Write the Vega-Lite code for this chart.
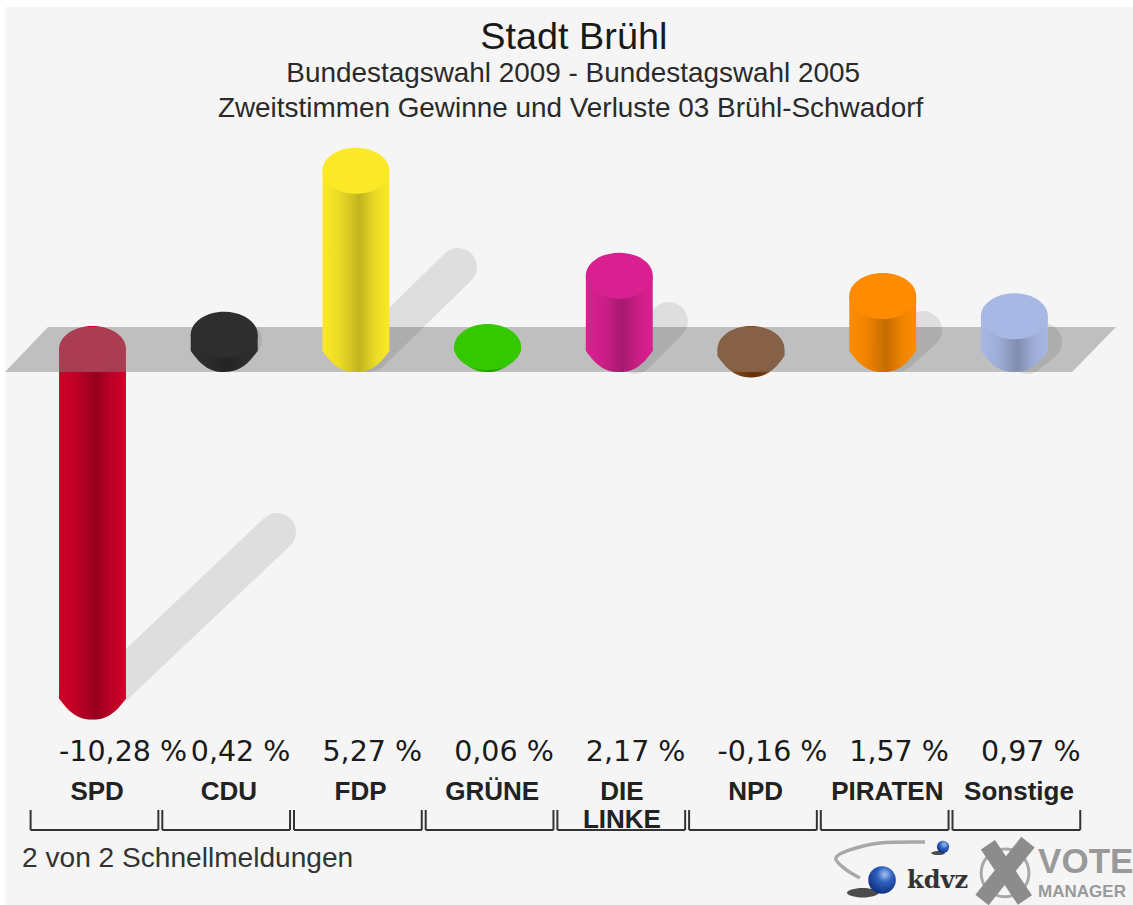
{
"$schema":"https://vega.github.io/schema/vega-lite/v6.json",
"width":1133,"height":905,"padding":0,
"autosize":"none",
"background":"#ffffff",
"config":{"view":{"stroke":null}},
"datasets":{
"panel":[{"x":0.3356,"x2":8.9005,"y":10.118,"y2":-16.45}],
"floor":[{"x":0.3356,"y":-0.6805,"y2":-0.6805},{"x":0.6621,"y":0.6509,"y2":-0.6805},{"x":8.4374,"y":0.6509,"y2":-0.6805},{"x":8.7715,"y":0.6509,"y2":0.6509}],
"shadowsNeg":[{"party":"SPD","x":1.1329,"y":-10.089,"x2":2.4009,"y2":-5.414}],
"shadowsPos":[
{"party":"CDU","x":2.058,"y":-0.059,"x2":2.141,"y2":0.266},
{"party":"FDP","x":3.107,"y":-0.118,"x2":3.775,"y2":2.426},
{"party":"DIE LINKE","x":5.12,"y":-0.178,"x2":5.377,"y2":0.828},
{"party":"PIRATEN","x":7.109,"y":-0.118,"x2":7.306,"y2":0.562},
{"party":"Sonstige","x":8.096,"y":-0.178,"x2":8.217,"y2":0.207}],
"bars":[
{"party":"SPD","name":["SPD"],"k":1,"value":-10.28,"hi":0,"lo":-10.28,"barL":0.746,"barR":1.254,"label":"-10,28 %","cx":1.035,"bl":0.53,"br":1.5,"ly":-12.19,"ny":-13.34,"yb":-14.23,"yt":-13.64},
{"party":"CDU","name":["CDU"],"k":2,"value":0.42,"hi":0.42,"lo":0,"barL":1.746,"barR":2.254,"label":"0,42 %","cx":2.035,"bl":1.53,"br":2.5,"ly":-12.19,"ny":-13.34,"yb":-14.23,"yt":-13.64},
{"party":"FDP","name":["FDP"],"k":3,"value":5.27,"hi":5.27,"lo":0,"barL":2.746,"barR":3.254,"label":"5,27 %","cx":3.035,"bl":2.53,"br":3.5,"ly":-12.19,"ny":-13.34,"yb":-14.23,"yt":-13.64},
{"party":"GRÜNE","name":["GRÜNE"],"k":4,"value":0.06,"hi":0.06,"lo":0,"barL":3.746,"barR":4.254,"label":"0,06 %","cx":4.035,"bl":3.53,"br":4.5,"ly":-12.19,"ny":-13.34,"yb":-14.23,"yt":-13.64},
{"party":"DIE LINKE","name":["DIE","LINKE"],"k":5,"value":2.17,"hi":2.17,"lo":0,"barL":4.746,"barR":5.254,"label":"2,17 %","cx":5.02,"bl":4.53,"br":5.5,"ly":-12.19,"ny":-13.34,"yb":-14.23,"yt":-13.64},
{"party":"NPD","name":["NPD"],"k":6,"value":-0.16,"hi":0,"lo":-0.16,"barL":5.746,"barR":6.254,"label":"-0,16 %","cx":6.035,"bl":5.53,"br":6.5,"ly":-12.19,"ny":-13.34,"yb":-14.23,"yt":-13.64},
{"party":"PIRATEN","name":["PIRATEN"],"k":7,"value":1.57,"hi":1.57,"lo":0,"barL":6.746,"barR":7.254,"label":"1,57 %","cx":7.035,"bl":6.53,"br":7.5,"ly":-12.19,"ny":-13.34,"yb":-14.23,"yt":-13.64},
{"party":"Sonstige","name":["Sonstige"],"k":8,"value":0.97,"hi":0.97,"lo":0,"barL":7.746,"barR":8.254,"label":"0,97 %","cx":8.035,"bl":7.53,"br":8.5,"ly":-12.19,"ny":-13.34,"yb":-14.23,"yt":-13.64}]
},
"layer":[
{"data":{"name":"panel"},"mark":{"type":"rect","fill":"#f5f5f5"},"encoding":{
"x":{"field":"x","type":"quantitative","scale":{"domain":[0.29764,8.90054],"nice":false,"zero":false},"axis":null},"x2":{"field":"x2"},
"y":{"field":"y","type":"quantitative","scale":{"domain":[-16.45,10.325],"nice":false,"zero":false},"axis":null},"y2":{"field":"y2"}}},
{"data":{"name":"shadowsNeg"},"mark":{"type":"rule","strokeWidth":38,"strokeCap":"round","color":"#000000","opacity":0.09},"encoding":{
"x":{"field":"x","type":"quantitative","scale":{"domain":[0.29764,8.90054],"nice":false,"zero":false},"axis":null},"x2":{"field":"x2"},
"y":{"field":"y","type":"quantitative","scale":{"domain":[-16.45,10.325],"nice":false,"zero":false},"axis":null},"y2":{"field":"y2"}}},
{"data":{"name":"bars"},"transform":[{"filter":"datum.value < 0"}],"mark":{"type":"rect"},"encoding":{
"x":{"field":"barL","type":"quantitative","scale":{"domain":[0.29764,8.90054],"nice":false,"zero":false},"axis":null},"x2":{"field":"barR"},
"y":{"field":"hi","type":"quantitative","scale":{"domain":[-16.45,10.325],"nice":false,"zero":false},"axis":null},"y2":{"field":"lo"},
"color":{"field":"party","type":"nominal","legend":null,"scale":{"domain":["SPD","CDU","FDP","GRÜNE","DIE LINKE","NPD","PIRATEN","Sonstige"],"range":["#ce0028","#2e2e2e","#fbe928","#34c800","#d92090","#8b4513","#ff8c00","#a8b8e4"]}}}},
{"data":{"name":"bars"},"transform":[{"filter":"datum.value < 0"}],"mark":{"type":"point","filled":true,"opacity":1,"size":4489,"shape":"M-1,-0.03 L1,-0.03 L1,0.05 C0.75,0.4 0.5,0.687 0,0.687 C-0.5,0.687 -0.75,0.4 -1,0.05 Z"},"encoding":{
"x":{"field":"k","type":"quantitative","scale":{"domain":[0.29764,8.90054],"nice":false,"zero":false},"axis":null},
"y":{"field":"lo","type":"quantitative","scale":{"domain":[-16.45,10.325],"nice":false,"zero":false},"axis":null},
"color":{"field":"party","type":"nominal","legend":null,"scale":{"domain":["SPD","CDU","FDP","GRÜNE","DIE LINKE","NPD","PIRATEN","Sonstige"],"range":["#ce0028","#2e2e2e","#fbe928","#34c800","#d92090","#8b4513","#ff8c00","#a8b8e4"]}}}},
{"data":{"name":"bars"},"transform":[{"filter":"datum.value < 0"}],"mark":{"type":"rect","fill":{"gradient":"linear","x1":0,"y1":0,"x2":1,"y2":0,"stops":[{"offset":0,"color":"rgba(0,0,0,0)"},{"offset":0.25,"color":"rgba(0,0,0,0.07)"},{"offset":0.55,"color":"rgba(0,0,0,0.28)"},{"offset":0.8,"color":"rgba(0,0,0,0.07)"},{"offset":1,"color":"rgba(0,0,0,0)"}]}},"encoding":{
"x":{"field":"barL","type":"quantitative","scale":{"domain":[0.29764,8.90054],"nice":false,"zero":false},"axis":null},"x2":{"field":"barR"},
"y":{"field":"hi","type":"quantitative","scale":{"domain":[-16.45,10.325],"nice":false,"zero":false},"axis":null},"y2":{"field":"lo"}}},
{"data":{"name":"bars"},"transform":[{"filter":"datum.value < 0"}],"mark":{"type":"point","filled":true,"opacity":1,"size":4489,"shape":"M-1,0 L1,0 L1,0.05 C0.75,0.4 0.5,0.687 0,0.687 C-0.5,0.687 -0.75,0.4 -1,0.05 Z","fill":{"gradient":"linear","x1":0,"y1":0,"x2":1,"y2":0,"stops":[{"offset":0,"color":"rgba(0,0,0,0)"},{"offset":0.25,"color":"rgba(0,0,0,0.07)"},{"offset":0.55,"color":"rgba(0,0,0,0.28)"},{"offset":0.8,"color":"rgba(0,0,0,0.07)"},{"offset":1,"color":"rgba(0,0,0,0)"}]}},"encoding":{
"x":{"field":"k","type":"quantitative","scale":{"domain":[0.29764,8.90054],"nice":false,"zero":false},"axis":null},
"y":{"field":"lo","type":"quantitative","scale":{"domain":[-16.45,10.325],"nice":false,"zero":false},"axis":null}}},
{"data":{"name":"bars"},"transform":[{"filter":"datum.value < 0"}],"mark":{"type":"point","filled":true,"opacity":1,"size":4489,"shape":"M-1,0 C-1,-0.379 -0.552,-0.687 0,-0.687 C0.552,-0.687 1,-0.379 1,0 C1,0.379 0.552,0.687 0,0.687 C-0.552,0.687 -1,0.379 -1,0 Z"},"encoding":{
"x":{"field":"k","type":"quantitative","scale":{"domain":[0.29764,8.90054],"nice":false,"zero":false},"axis":null},
"y":{"field":"hi","type":"quantitative","scale":{"domain":[-16.45,10.325],"nice":false,"zero":false},"axis":null},
"color":{"field":"party","type":"nominal","legend":null,"scale":{"domain":["SPD","CDU","FDP","GRÜNE","DIE LINKE","NPD","PIRATEN","Sonstige"],"range":["#ce0028","#2e2e2e","#fbe928","#34c800","#d92090","#8b4513","#ff8c00","#a8b8e4"]}}}},
{"data":{"name":"floor"},"mark":{"type":"area","color":"#828282","opacity":0.47},"encoding":{
"x":{"field":"x","type":"quantitative","scale":{"domain":[0.29764,8.90054],"nice":false,"zero":false},"axis":null},
"y":{"field":"y","type":"quantitative","scale":{"domain":[-16.45,10.325],"nice":false,"zero":false},"axis":null},"y2":{"field":"y2"}}},
{"data":{"name":"shadowsPos"},"mark":{"type":"rule","strokeWidth":38,"strokeCap":"round","color":"#000000","opacity":0.09},"encoding":{
"x":{"field":"x","type":"quantitative","scale":{"domain":[0.29764,8.90054],"nice":false,"zero":false},"axis":null},"x2":{"field":"x2"},
"y":{"field":"y","type":"quantitative","scale":{"domain":[-16.45,10.325],"nice":false,"zero":false},"axis":null},"y2":{"field":"y2"}}},
{"data":{"name":"bars"},"transform":[{"filter":"datum.value >= 0"}],"mark":{"type":"rect"},"encoding":{
"x":{"field":"barL","type":"quantitative","scale":{"domain":[0.29764,8.90054],"nice":false,"zero":false},"axis":null},"x2":{"field":"barR"},
"y":{"field":"hi","type":"quantitative","scale":{"domain":[-16.45,10.325],"nice":false,"zero":false},"axis":null},"y2":{"field":"lo"},
"color":{"field":"party","type":"nominal","legend":null,"scale":{"domain":["SPD","CDU","FDP","GRÜNE","DIE LINKE","NPD","PIRATEN","Sonstige"],"range":["#ce0028","#2e2e2e","#fbe928","#34c800","#d92090","#8b4513","#ff8c00","#a8b8e4"]}}}},
{"data":{"name":"bars"},"transform":[{"filter":"datum.value >= 0"}],"mark":{"type":"point","filled":true,"opacity":1,"size":4489,"shape":"M-1,-0.03 L1,-0.03 L1,0.05 C0.75,0.4 0.5,0.687 0,0.687 C-0.5,0.687 -0.75,0.4 -1,0.05 Z"},"encoding":{
"x":{"field":"k","type":"quantitative","scale":{"domain":[0.29764,8.90054],"nice":false,"zero":false},"axis":null},
"y":{"field":"lo","type":"quantitative","scale":{"domain":[-16.45,10.325],"nice":false,"zero":false},"axis":null},
"color":{"field":"party","type":"nominal","legend":null,"scale":{"domain":["SPD","CDU","FDP","GRÜNE","DIE LINKE","NPD","PIRATEN","Sonstige"],"range":["#ce0028","#2e2e2e","#fbe928","#34c800","#d92090","#8b4513","#ff8c00","#a8b8e4"]}}}},
{"data":{"name":"bars"},"transform":[{"filter":"datum.value >= 0"}],"mark":{"type":"rect","fill":{"gradient":"linear","x1":0,"y1":0,"x2":1,"y2":0,"stops":[{"offset":0,"color":"rgba(0,0,0,0)"},{"offset":0.25,"color":"rgba(0,0,0,0.06)"},{"offset":0.55,"color":"rgba(0,0,0,0.23)"},{"offset":0.8,"color":"rgba(0,0,0,0.06)"},{"offset":1,"color":"rgba(0,0,0,0)"}]}},"encoding":{
"x":{"field":"barL","type":"quantitative","scale":{"domain":[0.29764,8.90054],"nice":false,"zero":false},"axis":null},"x2":{"field":"barR"},
"y":{"field":"hi","type":"quantitative","scale":{"domain":[-16.45,10.325],"nice":false,"zero":false},"axis":null},"y2":{"field":"lo"}}},
{"data":{"name":"bars"},"transform":[{"filter":"datum.value >= 0"}],"mark":{"type":"point","filled":true,"opacity":1,"size":4489,"shape":"M-1,0 L1,0 L1,0.05 C0.75,0.4 0.5,0.687 0,0.687 C-0.5,0.687 -0.75,0.4 -1,0.05 Z","fill":{"gradient":"linear","x1":0,"y1":0,"x2":1,"y2":0,"stops":[{"offset":0,"color":"rgba(0,0,0,0)"},{"offset":0.25,"color":"rgba(0,0,0,0.06)"},{"offset":0.55,"color":"rgba(0,0,0,0.23)"},{"offset":0.8,"color":"rgba(0,0,0,0.06)"},{"offset":1,"color":"rgba(0,0,0,0)"}]}},"encoding":{
"x":{"field":"k","type":"quantitative","scale":{"domain":[0.29764,8.90054],"nice":false,"zero":false},"axis":null},
"y":{"field":"lo","type":"quantitative","scale":{"domain":[-16.45,10.325],"nice":false,"zero":false},"axis":null}}},
{"data":{"name":"bars"},"transform":[{"filter":"datum.value >= 0"}],"mark":{"type":"point","filled":true,"opacity":1,"size":4489,"shape":"M-1,0 C-1,-0.379 -0.552,-0.687 0,-0.687 C0.552,-0.687 1,-0.379 1,0 C1,0.379 0.552,0.687 0,0.687 C-0.552,0.687 -1,0.379 -1,0 Z"},"encoding":{
"x":{"field":"k","type":"quantitative","scale":{"domain":[0.29764,8.90054],"nice":false,"zero":false},"axis":null},
"y":{"field":"hi","type":"quantitative","scale":{"domain":[-16.45,10.325],"nice":false,"zero":false},"axis":null},
"color":{"field":"party","type":"nominal","legend":null,"scale":{"domain":["SPD","CDU","FDP","GRÜNE","DIE LINKE","NPD","PIRATEN","Sonstige"],"range":["#ce0028","#2e2e2e","#fbe928","#34c800","#d92090","#8b4513","#ff8c00","#a8b8e4"]}}}},
{"data":{"values":[{"t":"Stadt Brühl","x":4.655,"y":8.877}]},"mark":{"type":"text","font":"Liberation Sans","fontSize":37.8,"color":"#1a1a1a","align":"center","baseline":"alphabetic"},"encoding":{
"text":{"field":"t"},
"x":{"field":"x","type":"quantitative","scale":{"domain":[0.29764,8.90054],"nice":false,"zero":false},"axis":null},
"y":{"field":"y","type":"quantitative","scale":{"domain":[-16.45,10.325],"nice":false,"zero":false},"axis":null}}},
{"data":{"values":[{"t":"Bundestagswahl 2009 - Bundestagswahl 2005","x":4.65,"y":7.9},{"t":"Zweitstimmen Gewinne und Verluste 03 Brühl-Schwadorf","x":4.63,"y":6.86}]},"mark":{"type":"text","font":"Liberation Sans","fontSize":27.9,"color":"#2a2a2a","align":"center","baseline":"alphabetic"},"encoding":{
"text":{"field":"t"},
"x":{"field":"x","type":"quantitative","scale":{"domain":[0.29764,8.90054],"nice":false,"zero":false},"axis":null},
"y":{"field":"y","type":"quantitative","scale":{"domain":[-16.45,10.325],"nice":false,"zero":false},"axis":null}}},
{"data":{"name":"bars"},"mark":{"type":"text","font":"DejaVu Sans","fontSize":28.5,"color":"#1a1a1a","align":"left","baseline":"alphabetic"},"encoding":{
"text":{"field":"label"},
"x":{"field":"barL","type":"quantitative","scale":{"domain":[0.29764,8.90054],"nice":false,"zero":false},"axis":null},
"y":{"field":"ly","type":"quantitative","scale":{"domain":[-16.45,10.325],"nice":false,"zero":false},"axis":null}}},
{"data":{"name":"bars"},"mark":{"type":"text","font":"Liberation Sans","fontWeight":"bold","fontSize":26,"lineHeight":28,"color":"#222222","align":"center","baseline":"alphabetic"},"encoding":{
"text":{"field":"name"},
"x":{"field":"cx","type":"quantitative","scale":{"domain":[0.29764,8.90054],"nice":false,"zero":false},"axis":null},
"y":{"field":"ny","type":"quantitative","scale":{"domain":[-16.45,10.325],"nice":false,"zero":false},"axis":null}}},
{"data":{"name":"bars"},"mark":{"type":"rule","color":"#333333","strokeWidth":2},"encoding":{
"x":{"field":"bl","type":"quantitative","scale":{"domain":[0.29764,8.90054],"nice":false,"zero":false},"axis":null},"x2":{"field":"br"},
"y":{"field":"yb","type":"quantitative","scale":{"domain":[-16.45,10.325],"nice":false,"zero":false},"axis":null}}},
{"data":{"name":"bars"},"mark":{"type":"rule","color":"#333333","strokeWidth":2},"encoding":{
"x":{"field":"bl","type":"quantitative","scale":{"domain":[0.29764,8.90054],"nice":false,"zero":false},"axis":null},
"y":{"field":"yt","type":"quantitative","scale":{"domain":[-16.45,10.325],"nice":false,"zero":false},"axis":null},"y2":{"field":"yb"}}},
{"data":{"name":"bars"},"mark":{"type":"rule","color":"#333333","strokeWidth":2},"encoding":{
"x":{"field":"br","type":"quantitative","scale":{"domain":[0.29764,8.90054],"nice":false,"zero":false},"axis":null},
"y":{"field":"yt","type":"quantitative","scale":{"domain":[-16.45,10.325],"nice":false,"zero":false},"axis":null},"y2":{"field":"yb"}}},
{"data":{"values":[{"t":"2 von 2 Schnellmeldungen","x":0.465,"y":-15.33}]},"mark":{"type":"text","font":"Liberation Sans","fontSize":28.1,"color":"#333333","align":"left","baseline":"alphabetic"},"encoding":{
"text":{"field":"t"},
"x":{"field":"x","type":"quantitative","scale":{"domain":[0.29764,8.90054],"nice":false,"zero":false},"axis":null},
"y":{"field":"y","type":"quantitative","scale":{"domain":[-16.45,10.325],"nice":false,"zero":false},"axis":null}}},
{"data":{"values":[{"x":7.321,"y":-14.585,"o":1},{"x":6.979,"y":-14.615,"o":2},{"x":6.751,"y":-14.82,"o":3},{"x":6.644,"y":-15.06,"o":4},{"x":6.713,"y":-15.38,"o":5},{"x":6.827,"y":-15.65,"o":6}]},"mark":{"type":"line","interpolate":"cardinal","color":"#a8a8a8","strokeWidth":3.5},"encoding":{
"order":{"field":"o"},
"x":{"field":"x","type":"quantitative","scale":{"domain":[0.29764,8.90054],"nice":false,"zero":false},"axis":null},
"y":{"field":"y","type":"quantitative","scale":{"domain":[-16.45,10.325],"nice":false,"zero":false},"axis":null}}},
{"data":{"values":[{"x":6.849,"y":-16.09}]},"mark":{"type":"point","filled":true,"opacity":0.8,"color":"#222222","size":1000,"shape":"M-1,0 C-1,-0.15 -0.55,-0.3 0,-0.3 C0.55,-0.3 1,-0.15 1,0 C1,0.15 0.55,0.3 0,0.3 C-0.55,0.3 -1,0.15 -1,0 Z"},"encoding":{
"x":{"field":"x","type":"quantitative","scale":{"domain":[0.29764,8.90054],"nice":false,"zero":false},"axis":null},
"y":{"field":"y","type":"quantitative","scale":{"domain":[-16.45,10.325],"nice":false,"zero":false},"axis":null}}},
{"data":{"values":[{"x":7.421,"y":-14.91}]},"mark":{"type":"point","filled":true,"opacity":0.8,"color":"#222222","size":190,"shape":"M-1,0 C-1,-0.15 -0.55,-0.3 0,-0.3 C0.55,-0.3 1,-0.15 1,0 C1,0.15 0.55,0.3 0,0.3 C-0.55,0.3 -1,0.15 -1,0 Z"},"encoding":{
"x":{"field":"x","type":"quantitative","scale":{"domain":[0.29764,8.90054],"nice":false,"zero":false},"axis":null},
"y":{"field":"y","type":"quantitative","scale":{"domain":[-16.45,10.325],"nice":false,"zero":false},"axis":null}}},
{"data":{"values":[{"x":6.995,"y":-15.71}]},"mark":{"type":"point","shape":"circle","filled":true,"opacity":1,"size":760,"fill":{"gradient":"radial","x1":0.6,"y1":0.3,"x2":0.6,"y2":0.3,"r1":0,"r2":0.7,"stops":[{"offset":0,"color":"#a8c4f0"},{"offset":0.4,"color":"#2f62c0"},{"offset":1,"color":"#0f2f80"}]}},"encoding":{
"x":{"field":"x","type":"quantitative","scale":{"domain":[0.29764,8.90054],"nice":false,"zero":false},"axis":null},
"y":{"field":"y","type":"quantitative","scale":{"domain":[-16.45,10.325],"nice":false,"zero":false},"axis":null}}},
{"data":{"values":[{"x":7.458,"y":-14.73}]},"mark":{"type":"point","shape":"circle","filled":true,"opacity":1,"size":150,"fill":{"gradient":"radial","x1":0.6,"y1":0.3,"x2":0.6,"y2":0.3,"r1":0,"r2":0.7,"stops":[{"offset":0,"color":"#a8c4f0"},{"offset":0.5,"color":"#2f62c0"},{"offset":1,"color":"#0f2f80"}]}},"encoding":{
"x":{"field":"x","type":"quantitative","scale":{"domain":[0.29764,8.90054],"nice":false,"zero":false},"axis":null},
"y":{"field":"y","type":"quantitative","scale":{"domain":[-16.45,10.325],"nice":false,"zero":false},"axis":null}}},
{"data":{"values":[{"t":"kdvz","x":7.185,"y":-15.95}]},"mark":{"type":"text","font":"DejaVu Serif","fontWeight":"bold","fontSize":24,"color":"#333333","align":"left","baseline":"alphabetic"},"encoding":{
"text":{"field":"t"},
"x":{"field":"x","type":"quantitative","scale":{"domain":[0.29764,8.90054],"nice":false,"zero":false},"axis":null},
"y":{"field":"y","type":"quantitative","scale":{"domain":[-16.45,10.325],"nice":false,"zero":false},"axis":null}}},
{"data":{"values":[{"x":7.929,"y":-15.5}]},"mark":{"type":"point","shape":"circle","filled":false,"opacity":1,"size":2290,"color":"#a8a8a8","strokeWidth":3},"encoding":{
"x":{"field":"x","type":"quantitative","scale":{"domain":[0.29764,8.90054],"nice":false,"zero":false},"axis":null},
"y":{"field":"y","type":"quantitative","scale":{"domain":[-16.45,10.325],"nice":false,"zero":false},"axis":null}}},
{"data":{"values":[{"x":7.754,"y":-16.3,"x2":8.103,"y2":-14.59},{"x":7.799,"y":-14.67,"x2":8.08,"y2":-16.3}]},"mark":{"type":"rule","color":"#8c8c8c","strokeWidth":17},"encoding":{
"x":{"field":"x","type":"quantitative","scale":{"domain":[0.29764,8.90054],"nice":false,"zero":false},"axis":null},"x2":{"field":"x2"},
"y":{"field":"y","type":"quantitative","scale":{"domain":[-16.45,10.325],"nice":false,"zero":false},"axis":null},"y2":{"field":"y2"}}},
{"data":{"values":[{"t":"VOTE","x":8.18,"y":-15.5}]},"mark":{"type":"text","font":"Liberation Sans","fontWeight":"bold","fontSize":35,"color":"#999999","align":"left","baseline":"alphabetic"},"encoding":{
"text":{"field":"t"},
"x":{"field":"x","type":"quantitative","scale":{"domain":[0.29764,8.90054],"nice":false,"zero":false},"axis":null},
"y":{"field":"y","type":"quantitative","scale":{"domain":[-16.45,10.325],"nice":false,"zero":false},"axis":null}}},
{"data":{"values":[{"t":"MANAGER","x":8.18,"y":-16.2}]},"mark":{"type":"text","font":"Liberation Sans","fontWeight":"bold","fontSize":17,"color":"#999999","align":"left","baseline":"alphabetic"},"encoding":{
"text":{"field":"t"},
"x":{"field":"x","type":"quantitative","scale":{"domain":[0.29764,8.90054],"nice":false,"zero":false},"axis":null},
"y":{"field":"y","type":"quantitative","scale":{"domain":[-16.45,10.325],"nice":false,"zero":false},"axis":null}}}
]
}
